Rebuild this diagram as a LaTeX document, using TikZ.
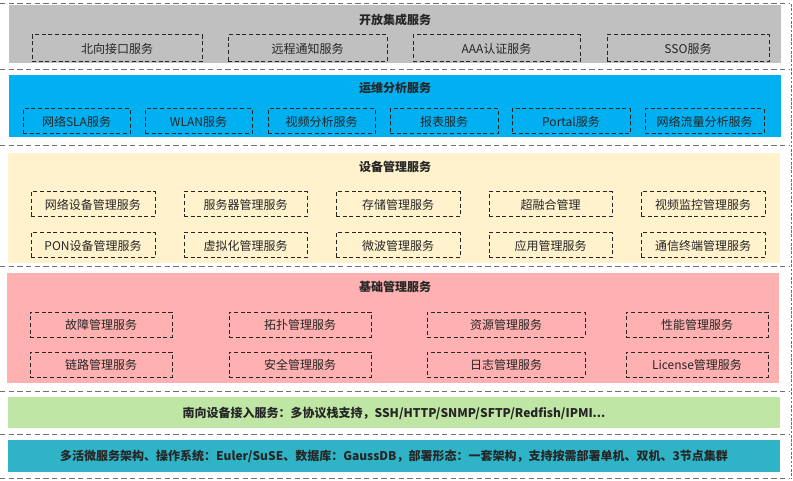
\documentclass[tikz,border=0pt]{standalone}
\usepackage{fontspec}
\setmainfont{Noto Sans CJK SC}
\definecolor{txt}{HTML}{262626}
\definecolor{cgray}{HTML}{C0C0C0}
\definecolor{cblue}{HTML}{00B0F0}
\definecolor{cyellow}{HTML}{FFF2CC}
\definecolor{cpink}{HTML}{FFB0B0}
\definecolor{cgreen}{HTML}{C0E6A6}
\definecolor{cteal}{HTML}{2FB3C6}
\definecolor{sepc}{HTML}{707070}
\newcommand\svcbox[6]{\node[svc, minimum width={(#4-#2)*0.75pt}, minimum height={(#5-#3)*0.75pt}] (#1) at ({(#2+#4)/2},{(#3+#5)/2}) {#6};}
\newcommand\layerbox[6]{\node[layer, fill=#6, minimum width={(#4-#2)*0.75pt}, minimum height={(#5-#3)*0.75pt}] (#1) at ({(#2+#4)/2},{(#3+#5)/2}) {};}
\begin{document}
\begin{tikzpicture}[x=0.75pt,y=-0.75pt,
  svc/.style={draw=black!85, dashed, dash pattern=on 3pt off 2pt, line width=0.75pt, inner sep=0pt, font=\fontsize{9}{10}\selectfont, text=txt},
  layer/.style={draw=none, inner sep=0pt},
  ttl/.style={font=\fontsize{9}{10}\selectfont\bfseries, text=txt, inner sep=0pt},
  sep/.style={draw=sepc, dashed, dash pattern=on 4pt off 2.5pt, line width=0.75pt}]
\useasboundingbox (0,0) rectangle (793,481);
% layer backgrounds
\layerbox{L1}{9}{5}{781}{63}{cgray}
\layerbox{L2}{9}{75}{781}{137}{cblue}
\layerbox{L3}{8}{153}{780}{263}{cyellow}
\layerbox{L4}{7}{273}{779}{383}{cpink}
\layerbox{L5}{8}{397}{780}{428}{cgreen}
\layerbox{L6}{8}{440}{780}{472}{cteal}
% separators
\coordinate (s0a) at (0,4); \coordinate (s0b) at (789,4);
\coordinate (s1a) at (0,70); \coordinate (s1b) at (789,70);
\coordinate (s2a) at (0,146); \coordinate (s2b) at (789,146);
\coordinate (s3a) at (0,267); \coordinate (s3b) at (789,267);
\coordinate (s4a) at (0,391); \coordinate (s4b) at (789,391);
\coordinate (s5a) at (0,434); \coordinate (s5b) at (789,434);
\coordinate (s6a) at (0,478); \coordinate (s6b) at (789,478);
\coordinate (vr1) at (791,4); \coordinate (vr2) at (791,478);
\draw[sep] (s0a) -- (s0b);
\draw[sep] (s1a) -- (s1b);
\draw[sep] (s2a) -- (s2b);
\draw[sep] (s3a) -- (s3b);
\draw[sep] (s4a) -- (s4b);
\draw[sep] (s5a) -- (s5b);
\draw[sep] (s6a) -- (s6b);
\draw[sep, dash pattern=on 2pt off 1.2pt] (vr1) -- (vr2);
% titles
\node[ttl] (T1) at (395,20) {开放集成服务};
\node[ttl] (T2) at (395,88) {运维分析服务};
\node[ttl] (T3) at (395,167) {设备管理服务};
\node[ttl] (T4) at (395,287) {基础管理服务};
\node[ttl] (T5) at (394,413) {南向设备接入服务：多协议栈支持，SSH/HTTP/SNMP/SFTP/Redfish/IPMI...};
\node[ttl] (T6) at (394,456) {多活微服务架构、操作系统：Euler/SuSE、数据库：GaussDB，部署形态：一套架构，支持按需部署单机、双机、3节点集群};
% row 1
\svcbox{a1}{32}{35}{202}{62}{北向接口服务}
\svcbox{a2}{228}{35}{387}{62}{远程通知服务}
\svcbox{a3}{413}{35}{580}{62}{AAA认证服务}
\svcbox{a4}{607}{35}{769}{62}{SSO服务}
% row 2
\svcbox{b1}{23}{109}{130}{134}{网络SLA服务}
\svcbox{b2}{145}{109}{252}{134}{WLAN服务}
\svcbox{b3}{268}{109}{375}{134}{视频分析服务}
\svcbox{b4}{390}{109}{498}{134}{报表服务}
\svcbox{b5}{512}{109}{630}{134}{Portal服务}
\svcbox{b6}{645}{109}{764}{134}{网络流量分析服务}
% row 3
\svcbox{c1}{31}{192}{155}{217}{网络设备管理服务}
\svcbox{c2}{184}{192}{307}{217}{服务器管理服务}
\svcbox{c3}{336}{192}{460}{217}{存储管理服务}
\svcbox{c4}{489}{192}{612}{217}{超融合管理}
\svcbox{c5}{641}{192}{765}{217}{视频监控管理服务}
\svcbox{c6}{31}{233}{155}{258}{PON设备管理服务}
\svcbox{c7}{184}{233}{307}{258}{虚拟化管理服务}
\svcbox{c8}{336}{233}{460}{258}{微波管理服务}
\svcbox{c9}{489}{233}{612}{258}{应用管理服务}
\svcbox{c10}{641}{233}{765}{258}{通信终端管理服务}
% row 4
\svcbox{d1}{30}{312}{172}{337}{故障管理服务}
\svcbox{d2}{229}{312}{371}{337}{拓扑管理服务}
\svcbox{d3}{427}{312}{585}{337}{资源管理服务}
\svcbox{d4}{626}{312}{768}{337}{性能管理服务}
\svcbox{d5}{30}{352}{172}{377}{链路管理服务}
\svcbox{d6}{229}{352}{371}{377}{安全管理服务}
\svcbox{d7}{427}{352}{585}{377}{日志管理服务}
\svcbox{d8}{626}{352}{768}{377}{License管理服务}
\end{tikzpicture}
\end{document}
